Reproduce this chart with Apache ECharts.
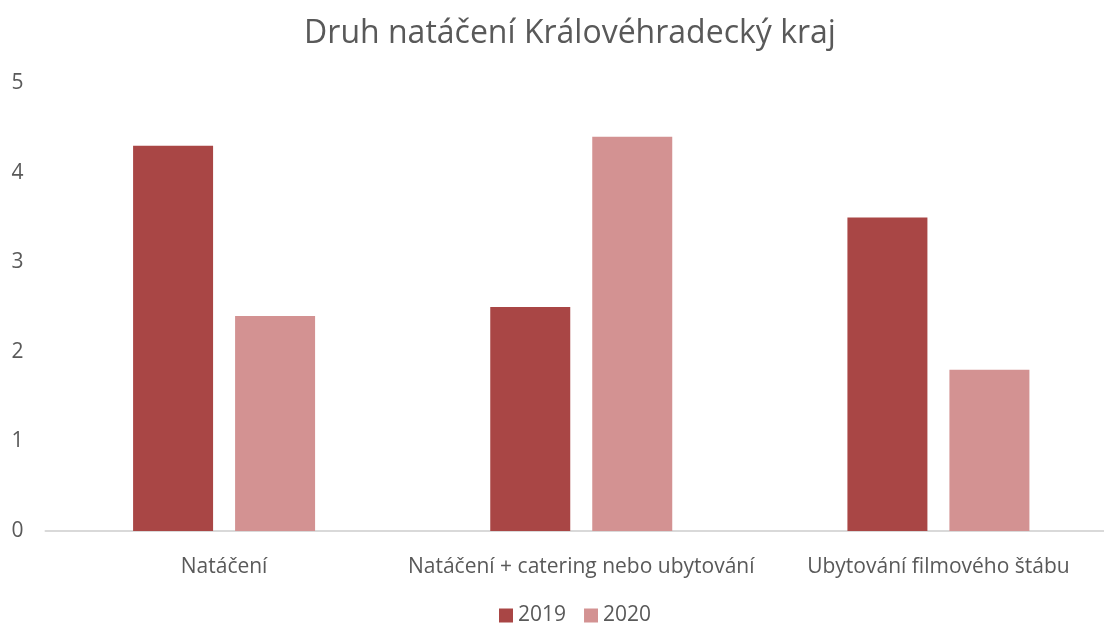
<!DOCTYPE html>
<html>
<head>
<meta charset="utf-8">
<script src="https://cdn.jsdelivr.net/npm/echarts@6/dist/echarts.min.js"></script>
<style>
  html, body { margin: 0; padding: 0; background: #fff; overflow: hidden; }
  #chart { width: 1117px; height: 625px; }
</style>
</head>
<body>
<div id="chart"></div>
<script>
var categories = ['Natáčení', 'Natáčení + catering nebo ubytování', 'Ubytování filmového štábu'];
var seriesNames = ['2019', '2020'];
var values2019 = [4.3, 2.5, 3.5];
var values2020 = [2.4, 4.4, 1.8];

var textColor = '#595959';
var fontFam = '"Open Sans", "Noto Sans", sans-serif';

var option = {
    backgroundColor: '#ffffff',
    animation: false,
    title: {
        text: 'Druh natáčení Královéhradecký kraj',
        left: 565,
        top: 13,
        textAlign: 'center',
        textStyle: { color: textColor, fontSize: 32, fontWeight: 'normal', fontFamily: fontFam }
    },
    legend: {
        data: seriesNames,
        bottom: -6,
        left: 494,
        itemWidth: 14,
        itemHeight: 14,
        itemGap: 18,
        icon: 'rect',
        textStyle: { color: textColor, fontSize: 21, fontFamily: fontFam }
    },
    grid: { left: 45.5, right: 0, top: 83, bottom: 94, containLabel: false },
    xAxis: {
        type: 'category',
        data: categories,
        axisLine: { lineStyle: { color: '#d9d9d9', width: 2 } },
        axisTick: { show: false },
        axisLabel: { color: textColor, fontSize: 21, margin: 26, interval: 0, fontFamily: fontFam }
    },
    yAxis: {
        type: 'value',
        min: 0,
        max: 5,
        interval: 1,
        splitLine: { show: false },
        axisLine: { show: false },
        axisTick: { show: false },
        axisLabel: { color: textColor, fontSize: 21, margin: 22, fontFamily: fontFam }
    },
    series: [
        {
            name: seriesNames[0],
            type: 'bar',
            data: values2019,
            barWidth: 80,
            barGap: '27.5%',
            itemStyle: { color: '#a94645' }
        },
        {
            name: seriesNames[1],
            type: 'bar',
            data: values2020,
            barWidth: 80,
            itemStyle: { color: '#d39292' }
        }
    ]
};

var myChart = echarts.init(document.getElementById('chart'));
myChart.setOption(option);
</script>
</body>
</html>
